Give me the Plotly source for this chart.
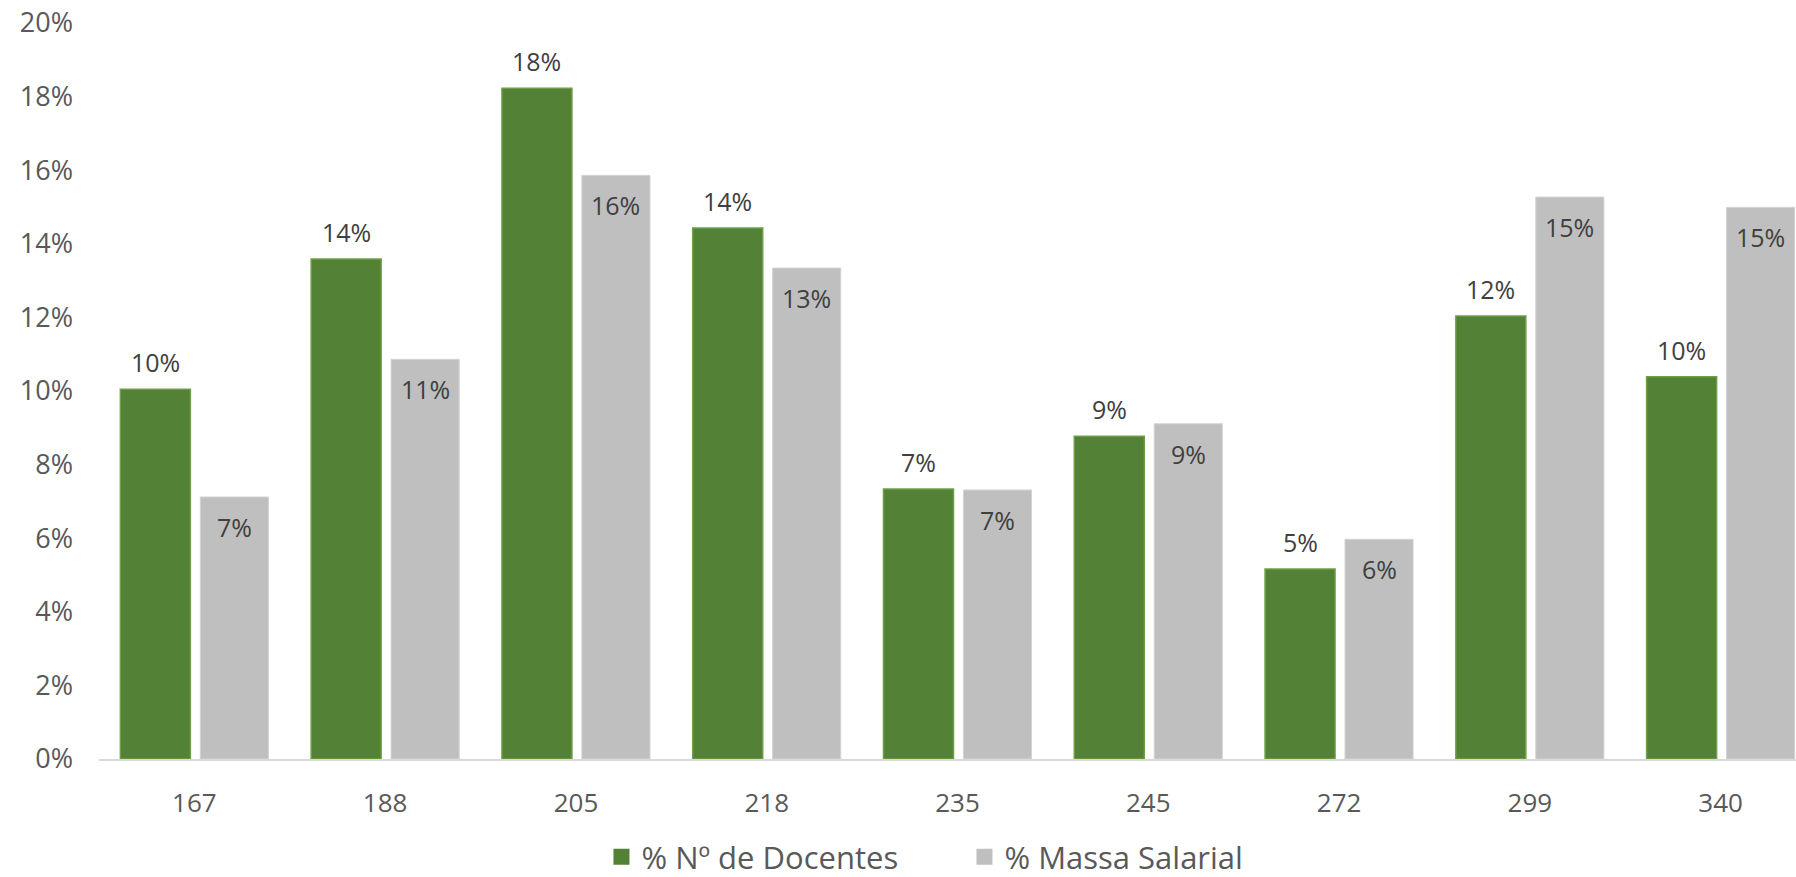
import plotly.graph_objects as go

categories = ["167", "188", "205", "218", "235", "245", "272", "299", "340"]
docentes = [0.1005, 0.1359, 0.1823, 0.1443, 0.0734, 0.0877, 0.0516, 0.1204, 0.1039]
massa = [0.0712, 0.1086, 0.1586, 0.1334, 0.0731, 0.0911, 0.0597, 0.1527, 0.1499]
series_names = ["% Nº de Docentes", "% Massa Salarial"]

GREEN = "#538135"
GRAY = "#BFBFBF"
FONT = "Open Sans"

fig = go.Figure()
fig.add_trace(go.Bar(
    x=categories, y=docentes, name=series_names[0], showlegend=False,
    marker=dict(color=GREEN, line=dict(color="#6E9F48", width=1.5)),
    offset=-0.388, width=0.367,
))
fig.add_trace(go.Bar(
    x=categories, y=massa, name=series_names[1], showlegend=False,
    marker=dict(color=GRAY, line=dict(color="#D3D3D3", width=1)),
    offset=0.031, width=0.357,
))
# legend entries (larger square swatches)
for name, col in zip(series_names, [GREEN, GRAY]):
    fig.add_trace(go.Scatter(
        x=[None], y=[None], mode="markers", name=name,
        marker=dict(symbol="square", size=16, color=col),
    ))

annotations = []
for i, v in enumerate(docentes):
    annotations.append(dict(x=i, y=v, xref="x", yref="y", text=f"{v*100:.0f}%",
                            showarrow=False, xshift=-39, yshift=27, yanchor="middle",
                            font=dict(family=FONT, size=25, color="#404040")))
for i, v in enumerate(massa):
    annotations.append(dict(x=i, y=v, xref="x", yref="y", text=f"{v*100:.0f}%",
                            showarrow=False, xshift=40, yshift=-30, yanchor="middle",
                            font=dict(family=FONT, size=25, color="#404040")))

fig.update_layout(
    width=1796, height=877,
    margin=dict(l=99, r=0, t=23, b=118, autoexpand=False),
    paper_bgcolor="white", plot_bgcolor="white",
    barmode="overlay",
    font=dict(family=FONT, color="#595959"),
    showlegend=True,
    legend=dict(orientation="h", x=0.51, xanchor="center", y=-0.1332, yanchor="middle",
                font=dict(family=FONT, size=31, color="#595959"),
                entrywidth=318, traceorder="normal", itemsizing="trace"),
    annotations=annotations,
    xaxis=dict(type="category", range=[-0.5, 8.395], showgrid=False, automargin=False,
               showline=True, linecolor="#D9D9D9", linewidth=1.5,
               ticks="", tickfont=dict(family=FONT, size=26, color="#595959"),
               ticklabelstandoff=20),
    yaxis=dict(range=[0, 0.2], dtick=0.02, tickformat=".0%", showgrid=False, automargin=False,
               zeroline=False, showline=False, ticks="",
               tickfont=dict(family=FONT, size=27, color="#595959"),
               ticklabelstandoff=25),
)

fig.write_html("out.html", config={"displayModeBar": False},
               post_script="document.body.style.margin='0px';document.body.style.overflow='hidden';")
